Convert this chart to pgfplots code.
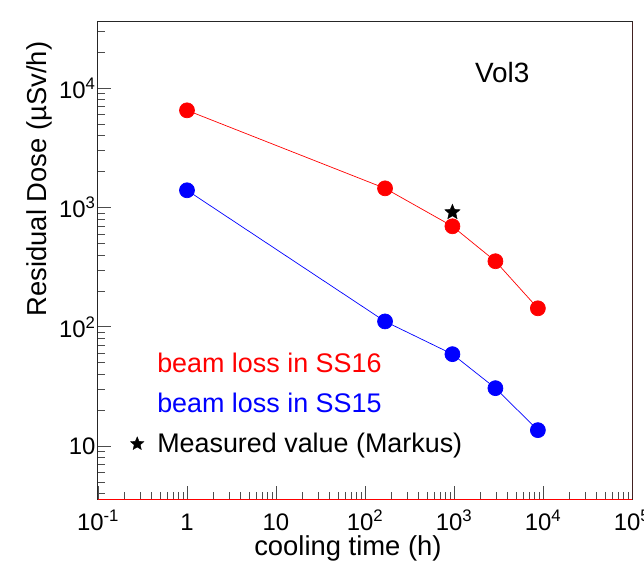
\documentclass[border=0pt]{standalone}
\usepackage{fontspec}
\setmainfont{Liberation Sans}
\usepackage{pgfplots}
\pgfplotsset{compat=1.18}

% filled five-point star, like ROOT marker 29
\pgfdeclareplotmark{fstar}{%
  \pgfpathmoveto{\pgfpointpolar{90}{\pgfplotmarksize}}%
  \pgfpathlineto{\pgfpointpolar{126}{0.45\pgfplotmarksize}}%
  \pgfpathlineto{\pgfpointpolar{162}{\pgfplotmarksize}}%
  \pgfpathlineto{\pgfpointpolar{198}{0.45\pgfplotmarksize}}%
  \pgfpathlineto{\pgfpointpolar{234}{\pgfplotmarksize}}%
  \pgfpathlineto{\pgfpointpolar{270}{0.45\pgfplotmarksize}}%
  \pgfpathlineto{\pgfpointpolar{306}{\pgfplotmarksize}}%
  \pgfpathlineto{\pgfpointpolar{342}{0.45\pgfplotmarksize}}%
  \pgfpathlineto{\pgfpointpolar{18}{\pgfplotmarksize}}%
  \pgfpathlineto{\pgfpointpolar{54}{0.45\pgfplotmarksize}}%
  \pgfpathclose
  \pgfusepathqfillstroke}

\begin{document}
\begin{tikzpicture}
\begin{axis}[
  scale only axis, width=534bp, height=477bp,
  xmode=log, ymode=log,
  xmin=0.1, xmax=1e5, ymin=3.6, ymax=3.6e4,
  font=\fontsize{24}{28}\selectfont,
  axis line style={black!85, line width=1bp},
  tick style={black!70, line width=0.8bp},
  tick pos=left, tick align=inside,
  major tick length=13bp, minor tick length=7bp,
  xtick={0.1,1,10,100,1000,10000,100000},
  xticklabels={10\textsuperscript{-1},1,10,10\textsuperscript{2},10\textsuperscript{3},10\textsuperscript{4},10\textsuperscript{5}},
  minor xtick={0.2,0.3,0.4,0.5,0.6,0.7,0.8,0.9,2,3,4,5,6,7,8,9,20,30,40,50,60,70,80,90,
    200,300,400,500,600,700,800,900,2000,3000,4000,5000,6000,7000,8000,9000,
    20000,30000,40000,50000,60000,70000,80000,90000},
  ytick={10,100,1000,10000},
  yticklabels={10,10\textsuperscript{2},10\textsuperscript{3},10\textsuperscript{4}},
  minor ytick={4,5,6,7,8,9,20,30,40,50,60,70,80,90,200,300,400,500,600,700,800,900,
    2000,3000,4000,5000,6000,7000,8000,9000,20000,30000},
  xticklabel style={anchor=base, yshift=-31bp},
  yticklabel style={anchor=east, xshift=1bp},
  xlabel={cooling time (h)},
  xlabel style={at={(axis description cs:0.468,-0.103)}, anchor=center,
    font=\fontsize{27.5}{32}\selectfont},
  ylabel={Residual Dose (µSv/h)},
  ylabel style={at={(axis description cs:-0.109,0.966)}, anchor=east, rotate=0,
    font=\fontsize{27.5}{32}\selectfont},
  legend style={at={(axis description cs:0.055,0.314)}, anchor=north west,
    draw=none, fill=none, row sep=15bp, font=\fontsize{27}{32}\selectfont},
  legend cell align=left,
]
\addplot[red, line width=0.7bp, mark=*, mark size=7.5bp,
  mark options={fill=red, draw=red}, forget plot]
  coordinates {(1,6540)(168,1450)(960,697)(2920,355)(8760,143)};
\addplot[blue, line width=0.7bp, mark=*, mark size=7.5bp,
  mark options={fill=blue, draw=blue}, forget plot]
  coordinates {(1,1397)(168,111)(960,59)(2920,30.6)(8760,13.6)};
\addplot[only marks, mark=fstar, mark size=8bp, black, forget plot]
  coordinates {(960,914)};

\addlegendimage{empty legend}
\addlegendentry{\textcolor{red}{beam loss in SS16}}
\addlegendimage{empty legend}
\addlegendentry{\textcolor{blue}{beam loss in SS15}}
\addlegendimage{legend image code/.code={%
  \path (0cm,0cm) (0.75cm,0cm);
  \draw[black, mark=fstar, mark size=7bp] plot coordinates {(0.12cm,0cm)};}}
\addlegendentry{Measured value (Markus)}

\node[font=\fontsize{28}{32}\selectfont] at (axis description cs:0.757,0.895) {Vol3};
\draw[red, line width=1bp] (rel axis cs:0,0) -- (rel axis cs:1,0) -- (rel axis cs:1,1);
\end{axis}
\pgfresetboundingbox
\path (current axis.south west) ++(-98bp,-71bp) rectangle ++(644bp,570bp);
\end{tikzpicture}
\end{document}
